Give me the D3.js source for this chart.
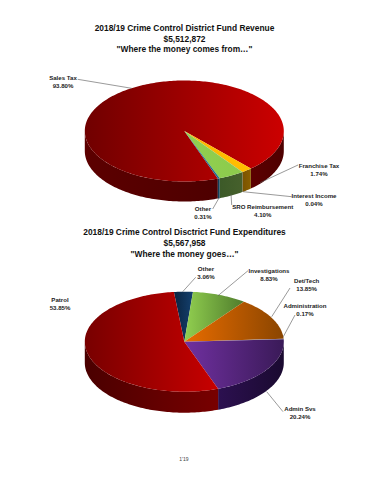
<!DOCTYPE html>
<html>
<head>
<meta charset="utf-8">
<script src="https://cdn.jsdelivr.net/npm/d3@7"></script>
<style>
  html, body { margin: 0; background: #fff; }
  svg { display: block; font-family: "Liberation Sans", Arial, sans-serif; }
  .title { font-size: 8.4px; font-weight: bold; fill: #111; text-anchor: middle; }
  .label { font-size: 6.1px; font-weight: bold; fill: #222; text-anchor: middle; }
  .leader { fill: none; stroke: #555; stroke-width: 0.6; }
</style>
</head>
<body>
<script>
const revenueTitle = ['2018/19 Crime Control District Fund Revenue', '$5,512,872', '"Where the money comes from\u2026"']
const revenueNames = ['Sales Tax', 'Franchise Tax', 'Interest Income', 'SRO Reimbursement', 'Other']
const revenueValues = [93.80, 1.74, 0.04, 4.10, 0.31]
const revenueLabels = ['93.80%', '1.74%', '0.04%', '4.10%', '0.31%']

const spendTitle = ['2018/19 Crime Control Disctrict Fund Expenditures', '$5,567,958', '"Where the money goes\u2026"']
const spendNames = ['Other', 'Investigations', 'Det/Tech', 'Administration', 'Admin Svs', 'Patrol']
const spendValues = [3.06, 8.83, 13.85, 0.17, 20.24, 53.85]
const spendLabels = ['3.06%', '8.83%', '13.85%', '0.17%', '20.24%', '53.85%']

// [top left, top right, side left, side right]
const revenueColors = [
  ['#700000', '#cc0000', '#5c0000', '#4e0000'],
  ['#ffb400', '#ffc000', '#7a5200', '#8a6000'],
  ['#3a7a9a', '#3a7a9a', '#24505f', '#24505f'],
  ['#92d050', '#8ccb4c', '#3c5a28', '#46602c'],
  ['#1f6a8a', '#1f6a8a', '#123f58', '#123f58']
]
const spendColors = [
  ['#0a2440', '#14406e', '#081a30', '#081a30'],
  ['#92d050', '#4f7c2c', '#3c5a28', '#3c5a28'],
  ['#e86c00', '#8a4500', '#5a2c00', '#5a2c00'],
  ['#9a9ab0', '#8a8aa0', '#333333', '#333333'],
  ['#7030a0', '#3a1a58', '#2c1050', '#1a0a30'],
  ['#780000', '#c80000', '#4a0000', '#780000']
]

const revenueLayout = {
  cx: 184.3, cy: 131, rx: 99.5, ry: 50.5, depth: 20, start: 160.3,
  titleY: [31, 41.5, 51.5],
  labels: [[63, 80], [319, 168], [314, 198], [262.7, 209], [203, 211]],
  leaders: [
    [[77.7, 79.3], [131.7, 88.3]],
    [[298, 165], [260, 182.7]],
    [[291.7, 196.7], [243, 191.7]],
    [[231.7, 205], [231, 194]],
    [[212.7, 209], [219, 198]]
  ]
}
const spendLayout = {
  cx: 184.3, cy: 341.7, rx: 99.5, ry: 50, depth: 21, start: -6,
  titleY: [235, 246, 256.5],
  labels: [[206, 271], [269, 273], [306.7, 283], [305, 308], [300, 411], [60, 302]],
  leaders: [
    [[195.7, 277.3], [182.7, 291.7]],
    [[248, 270.7], [218, 295.7]],
    [[290, 288], [271.7, 316.7]],
    [[295, 315], [283.3, 336.7]],
    [[283, 411.7], [266.7, 391.7]]
  ]
}

const svg = d3.select('body').append('svg').attr('width', 370).attr('height', 480)
const defs = svg.append('defs')

const drawPie = (id, names, values, labels, colors, titleLines, opt) => {
  const {cx, cy, rx, ry, depth} = opt
  const x = d3.scaleLinear().domain([-1, 1]).range([cx - rx, cx + rx])
  const y = d3.scaleLinear().domain([-1, 1]).range([cy - ry, cy + ry])
  const toRad = d => d * Math.PI / 180
  const px = a => x(Math.sin(a))
  const py = a => y(-Math.cos(a))

  const slices = d3.pie().sort(null)
    .startAngle(toRad(opt.start))
    .endAngle(toRad(opt.start + 360))(values)

  const addGradient = (name, c0, c1) => {
    const g = defs.append('linearGradient').attr('id', name)
    g.append('stop').attr('offset', 0).attr('stop-color', c0)
    g.append('stop').attr('offset', 1).attr('stop-color', c1)
  }

  const line = d3.line().x(d => d[0]).y(d => d[1])
  const samples = (a0, a1) => {
    const n = Math.max(2, Math.ceil((a1 - a0) / 0.02))
    return d3.range(n + 1).map(i => a0 + (a1 - a0) * i / n)
  }

  // side wall, only the part of each slice facing the viewer
  const side = svg.append('g')
  slices.forEach((s, i) => {
    const name = `${id}-side-${i}`
    addGradient(name, colors[i][2], colors[i][3])
    ;[-1, 0, 1].forEach(turn => {
      const lo = Math.PI / 2 + turn * 2 * Math.PI
      const from = Math.max(s.startAngle, lo)
      const to = Math.min(s.endAngle, lo + Math.PI)
      if (to <= from) return
      const arc = samples(from, to)
      const pts = arc.map(a => [px(a), py(a)])
        .concat(arc.slice().reverse().map(a => [px(a), py(a) + depth]))
      side.append('path').attr('d', line(pts) + 'Z').attr('fill', `url(#${name})`)
    })
  })

  // top face
  const top = svg.append('g')
  slices.forEach((s, i) => {
    const name = `${id}-top-${i}`
    addGradient(name, colors[i][0], colors[i][1])
    const arc = samples(s.startAngle, s.endAngle)
    const pts = [[cx, cy]].concat(arc.map(a => [px(a), py(a)]))
    top.append('path').attr('d', line(pts) + 'Z').attr('fill', `url(#${name})`)
  })

  svg.append('g').selectAll('path').data(opt.leaders).join('path')
    .attr('class', 'leader').attr('d', line)

  const text = svg.append('g')
  names.forEach((n, i) => {
    const t = text.append('text').attr('class', 'label')
      .attr('x', opt.labels[i][0]).attr('y', opt.labels[i][1])
    t.append('tspan').attr('x', opt.labels[i][0]).text(n)
    t.append('tspan').attr('x', opt.labels[i][0]).attr('dy', 8).text(labels[i])
  })

  svg.append('g').selectAll('text').data(titleLines).join('text')
    .attr('class', 'title').attr('x', 184.5).attr('y', (d, i) => opt.titleY[i]).text(d => d)
}

drawPie('rev', revenueNames, revenueValues, revenueLabels, revenueColors, revenueTitle, revenueLayout)
drawPie('exp', spendNames, spendValues, spendLabels, spendColors, spendTitle, spendLayout)

svg.append('text').attr('x', 184).attr('y', 461).attr('text-anchor', 'middle')
  .attr('font-size', 5).attr('fill', '#444').text('1\'19')
</script>
</body>
</html>
